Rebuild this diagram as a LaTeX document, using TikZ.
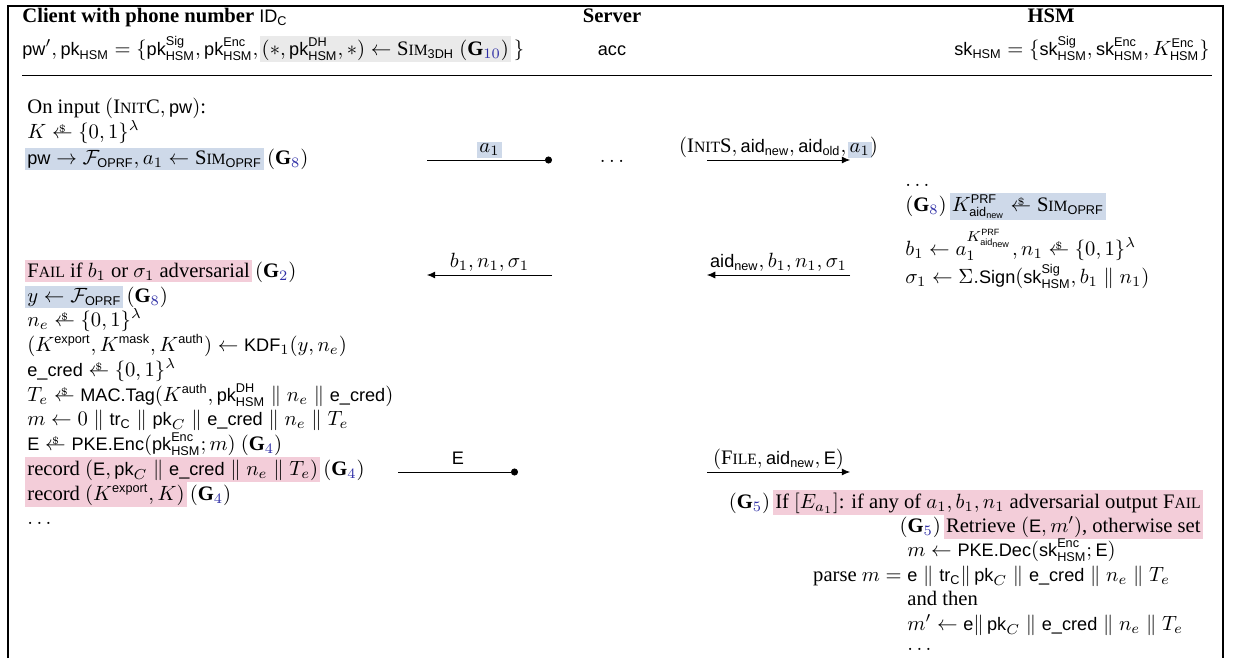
\documentclass[tikz,border=0pt]{standalone}
\usepackage{amsmath,amssymb}
\usepackage{fontspec}
\setmainfont{Liberation Serif}
\setsansfont{Liberation Sans}[Scale=0.88]
\usetikzlibrary{arrows.meta,positioning}

\definecolor{hlblue}{RGB}{206,217,233}
\definecolor{hlpink}{RGB}{243,205,217}
\definecolor{hlgray}{RGB}{234,234,234}
\definecolor{gnum}{RGB}{45,45,165}

\newcommand{\alg}[1]{\textsf{#1}}
\newcommand{\fsc}[2]{#1{\fontsize{7.6pt}{9pt}\selectfont #2}}
\newcommand{\gm}[1]{(\mathbf{G}_{\textcolor{gnum}{#1}})}
\newcommand{\sample}{\mathrel{\vbox{\offinterlineskip\halign{\hfil##\hfil\cr
   $\scriptscriptstyle\$$\cr\noalign{\kern-1.2pt}$\leftarrow$\cr}}}}
\newcommand{\hlbox}[2]{{\setlength{\fboxsep}{1pt}\hspace*{-1pt}\colorbox{#1}{#2}\hspace*{-1pt}}}
\newcommand{\hlb}[1]{\hlbox{hlblue}{#1}}
\newcommand{\hlp}[1]{\hlbox{hlpink}{#1}}
\newcommand{\hsm}{_{\alg{HSM}}}
\newcommand{\anew}{\alg{aid}_{\alg{new}}}
\newcommand{\ecred}{\alg{e\_cred}}
\newcommand{\oprf}{\mathcal{F}_{\alg{OPRF}}}
\newcommand{\simo}{\text{\fsc{S}{IM}}_{\alg{OPRF}}}

\begin{document}
\begin{tikzpicture}[x=0.01706cm, y=-0.01706cm,
   ln/.style={anchor=base west, inner sep=0pt},
   lnr/.style={anchor=base east, inner sep=0pt},
   hd/.style={anchor=base, inner sep=0pt},
   msg/.style={-{Latex[length=4pt,width=3.4pt]}},
   msgdot/.style={-{Circle[length=3.4pt]}},
   mlab/.style={anchor=base, inner sep=0pt, yshift=3.6pt},
   boxline/.style={line width=0.7pt}
]
\useasboundingbox (0,0) rectangle (1233,658);
\draw[boxline] (8,658) -- (8,6) -- (1223,6) -- (1223,658);

% header
\node[ln] (client) at (22,22) {\textbf{Client with phone number} $\alg{ID}_{\alg{C}}$};
\node[hd] (server) at (612,22) {\textbf{Server}};
\node[hd] (hsm) at (1051,22) {\textbf{HSM}};
\node[ln] (cpk) at (22,55)
   {$\alg{pw}', \alg{pk}\hsm = \{\alg{pk}^{\alg{Sig}}\hsm, \alg{pk}^{\alg{Enc}}\hsm,
   \text{\hlbox{hlgray}{$(\ast, \alg{pk}^{\alg{DH}}\hsm, \ast) \leftarrow \text{\fsc{S}{IM}}_{\alg{3DH}}\ \gm{10}$}}\ \}$};
\node[hd] (acc) at (612,55) {$\alg{acc}$};
\node[lnr] (hsk) at (1210,55)
   {$\alg{sk}\hsm = \{\alg{sk}^{\alg{Sig}}\hsm, \alg{sk}^{\alg{Enc}}\hsm, K^{\alg{Enc}}\hsm\}$};
\draw (22,75) -- (1212,75);

% client
\node[ln] (c1) at (27,113) {On input $(\text{\fsc{I}{NIT}C}, \alg{pw})$:};
\node[ln] (c2) at (27,138) {$K \sample \{0,1\}^\lambda$};
\node[ln] (c3) at (27,164) {\hlb{$\alg{pw} \rightarrow \oprf, a_1 \leftarrow \simo$} $\gm{8}$};
\node[ln] (c4) at (27,277) {\hlp{\fsc{F}{AIL} if $b_1$ or $\sigma_1$ adversarial} $\gm{2}$};
\node[ln] (c5) at (27,302) {\hlb{$y \leftarrow \oprf$} $\gm{8}$};
\node[ln] (c6) at (27,326) {$n_e \sample \{0,1\}^\lambda$};
\node[ln] (c7) at (27,351) {$(K^{\alg{export}}, K^{\alg{mask}}, K^{\alg{auth}}) \leftarrow \alg{KDF}_1(y, n_e)$};
\node[ln] (c8) at (27,376) {$\ecred \sample \{0,1\}^\lambda$};
\node[ln] (c9) at (27,401) {$T_e \sample \alg{MAC.Tag}(K^{\alg{auth}}, \alg{pk}^{\alg{DH}}\hsm \parallel n_e \parallel \ecred)$};
\node[ln] (c10) at (27,425) {$m \leftarrow 0 \parallel \alg{tr}_{\alg{C}} \parallel \alg{pk}_C \parallel \ecred \parallel n_e \parallel T_e$};
\node[ln] (c11) at (27,450) {$\alg{E} \sample \alg{PKE.Enc}(\alg{pk}^{\alg{Enc}}\hsm; m)$ $\gm{4}$};
\node[ln] (c12) at (27,475) {\hlp{record $(\alg{E}, \alg{pk}_C \parallel \ecred \parallel n_e \parallel T_e)$} $\gm{4}$};
\node[ln] (c13) at (27,500) {\hlp{record $(K^{\alg{export}}, K)$} $\gm{4}$};
\node[ln] (c14) at (27,524) {$\ldots$};

% messages
\coordinate (a1s) at (427,160); \coordinate (a1e) at (552,160);
\coordinate (i1s) at (707,160); \coordinate (i1e) at (850,160);
\coordinate (b1s) at (552,275); \coordinate (b1e) at (427,275);
\coordinate (r1s) at (850,275); \coordinate (r1e) at (707,275);
\coordinate (e1s) at (398,472); \coordinate (e1e) at (518,472);
\coordinate (f1s) at (707,472); \coordinate (f1e) at (850,472);
\node[hd] (sdots) at (612,162) {$\ldots$};

\draw[msgdot] (a1s) -- node[mlab] {\hlb{$a_1$}} (a1e);
\draw[msg] (i1s) -- node[mlab]
   {$(\text{\fsc{I}{NIT}S}, \anew, \alg{aid}_{\alg{old}}, \text{\hlb{$a_1$}})$} (i1e);
\draw[msg] (b1s) -- node[mlab] {$b_1, n_1, \sigma_1$} (b1e);
\draw[msg] (r1s) -- node[mlab] {$\anew, b_1, n_1, \sigma_1$} (r1e);
\draw[msgdot] (e1s) -- node[mlab] {$\alg{E}$} (e1e);
\draw[msg] (f1s) -- node[mlab] {$(\text{\fsc{F}{ILE}}, \anew, \alg{E})$} (f1e);

% hsm
\node[ln] (h1) at (905,186) {$\ldots$};
\node[ln] (h2) at (905,211) {$\gm{8}$ \hlb{$K^{\alg{PRF}}_{\anew} \sample \simo$}};
\node[ln] (h3) at (905,255)
   {$b_1 \leftarrow a_1^{K^{\alg{PRF}}_{\anew}}, n_1 \sample \{0,1\}^\lambda$};
\node[ln] (h4) at (905,283)
   {$\sigma_1 \leftarrow \Sigma.\alg{Sign}(\alg{sk}^{\alg{Sig}}\hsm, b_1 \parallel n_1)$};

\node[lnr] (g1) at (1201,508)
   {$\gm{5}$ \hlp{If $[E_{a_1}]$: if any of $a_1, b_1, n_1$ adversarial output \fsc{F}{AIL}}};
\node[lnr] (g2) at (1201,532) {$\gm{5}$ \hlp{Retrieve $(\alg{E}, m')$, otherwise set}};
\node[ln] (g3) at (907,556) {$m \leftarrow \alg{PKE.Dec}(\alg{sk}^{\alg{Enc}}\hsm; \alg{E})$};
\node[ln] (g4) at (907,581)
   {\llap{parse $m = {}$}$\alg{e} \parallel \alg{tr}_{\alg{C}}\|\, \alg{pk}_C \parallel \ecred \parallel n_e \parallel T_e$};
\node[ln] (g5) at (907,605) {and then};
\node[ln] (g6) at (907,630) {$m' \leftarrow \alg{e}\|\, \alg{pk}_C \parallel \ecred \parallel n_e \parallel T_e$};
\node[ln] (g7) at (907,650) {$\ldots$};
\end{tikzpicture}
\end{document}
